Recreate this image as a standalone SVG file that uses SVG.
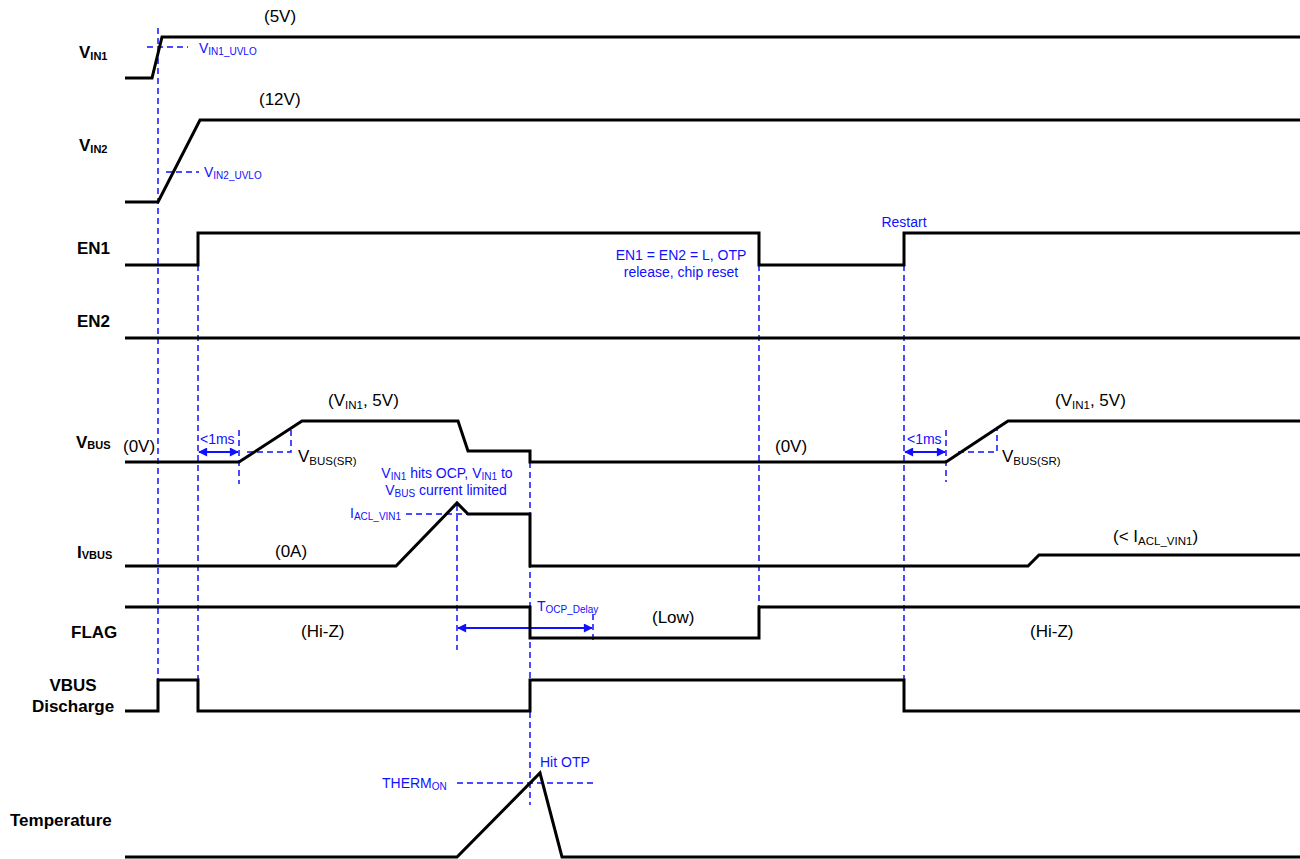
<svg xmlns="http://www.w3.org/2000/svg" width="1300" height="859" viewBox="0 0 1300 859">
<defs>
<style>
.sig{fill:none;stroke:#000;stroke-width:3;stroke-linejoin:miter}
.dash{fill:none;stroke:#1010ff;stroke-width:1.5;stroke-dasharray:6,4}
.arr{fill:none;stroke:#1010ff;stroke-width:2}
.lbl{font-family:"Liberation Sans",Arial,sans-serif;font-weight:bold;font-size:17px;fill:#000}
.lsub{font-size:11px}
.txt{font-family:"Liberation Sans",Arial,sans-serif;font-size:17px;fill:#000}
.tsub{font-size:11.5px}
.bt{font-family:"Liberation Sans",Arial,sans-serif;font-size:14px;fill:#1010ff}
.bsub{font-size:10px}
</style>
<marker id="ah" viewBox="0 0 10 10" refX="9" refY="5" markerWidth="5" markerHeight="4.5" orient="auto-start-reverse" markerUnits="strokeWidth">
<path d="M0,0 L10,5 L0,10 z" fill="#1010ff"/>
</marker>
</defs>
<rect width="1300" height="859" fill="#fff"/>

<g id="connectors">
<line class="dash" x1="158" y1="28" x2="158" y2="680"/>
<line class="dash" x1="198" y1="265" x2="198" y2="680"/>
<line class="dash" x1="759" y1="265" x2="759" y2="607"/>
<line class="dash" x1="904" y1="265" x2="904" y2="680"/>
<line class="dash" x1="530" y1="462" x2="530" y2="805"/>
<line class="dash" x1="239" y1="430" x2="239" y2="484"/>
<line class="dash" x1="946" y1="430" x2="946" y2="482"/>
<line class="dash" x1="457" y1="505" x2="457" y2="650"/>
<line class="dash" x1="593" y1="614" x2="593" y2="640"/>
<line class="dash" x1="147" y1="47" x2="188" y2="47"/>
<line class="dash" x1="166" y1="172" x2="199" y2="172"/>
<polyline class="dash" points="247,452 291,452 291,428"/>
<polyline class="dash" points="958,452 997,452 997,428"/>
<line class="dash" x1="406" y1="514" x2="468" y2="514"/>
<line class="dash" x1="457" y1="783" x2="593" y2="783"/>
<line class="arr" x1="199" y1="452" x2="238" y2="452" marker-start="url(#ah)" marker-end="url(#ah)"/>
<line class="arr" x1="905" y1="452" x2="945" y2="452" marker-start="url(#ah)" marker-end="url(#ah)"/>
<line class="arr" x1="458" y1="628" x2="592" y2="628" marker-start="url(#ah)" marker-end="url(#ah)"/>
</g>

<g id="vin1">
<text class="lbl" x="79" y="58">V<tspan class="lsub" dy="2">IN1</tspan></text>
<polyline class="sig" points="125,78 152,78 162,37 1300,37"/>
<text class="txt" x="264" y="22">(5V)</text>
<text class="bt" x="199" y="53">V<tspan class="bsub" dy="2">IN1_UVLO</tspan></text>
</g>

<g id="vin2">
<text class="lbl" x="79" y="151">V<tspan class="lsub" dy="2">IN2</tspan></text>
<polyline class="sig" points="125,202 158,202 200,120 1300,120"/>
<text class="txt" x="259" y="105">(12V)</text>
<text class="bt" x="204" y="177">V<tspan class="bsub" dy="2">IN2_UVLO</tspan></text>
</g>

<g id="en1">
<text class="lbl" x="77" y="254">EN1</text>
<polyline class="sig" points="125,265 198,265 198,233 759,233 759,265 904,265 904,233 1300,233"/>
<text class="bt" x="681" y="260" text-anchor="middle">EN1 = EN2 = L, OTP</text>
<text class="bt" x="681" y="277" text-anchor="middle">release, chip reset</text>
<text class="bt" x="904" y="227" text-anchor="middle">Restart</text>
</g>

<g id="en2">
<text class="lbl" x="77" y="327">EN2</text>
<line class="sig" x1="125" y1="338" x2="1300" y2="338"/>
</g>

<g id="vbus">
<text class="lbl" x="76" y="448">V<tspan class="lsub" dy="1">BUS</tspan></text>
<polyline class="sig" points="125,462 239,462 302,421 458,421 468,451 530,451 530,462 946,462 1008,421 1300,421"/>
<text class="txt" x="123" y="452">(0V)</text>
<text class="txt" x="775" y="452">(0V)</text>
<text class="txt" x="328" y="406">(V<tspan class="tsub" dy="3">IN1</tspan><tspan dy="-3">, 5V)</tspan></text>
<text class="txt" x="1055" y="406">(V<tspan class="tsub" dy="3">IN1</tspan><tspan dy="-3">, 5V)</tspan></text>
<text class="txt" x="298" y="462">V<tspan class="tsub" dy="3">BUS(SR)</tspan></text>
<text class="txt" x="1002" y="462">V<tspan class="tsub" dy="3">BUS(SR)</tspan></text>
<text class="bt" x="200" y="444">&lt;1ms</text>
<text class="bt" x="907" y="444">&lt;1ms</text>
<text class="bt" x="447" y="478" text-anchor="middle">V<tspan class="bsub" dy="2">IN1</tspan><tspan dy="-2"> hits OCP, V</tspan><tspan class="bsub" dy="2">IN1</tspan><tspan dy="-2"> to</tspan></text>
<text class="bt" x="446" y="495" text-anchor="middle">V<tspan class="bsub" dy="2">BUS</tspan><tspan dy="-2"> current limited</tspan></text>
</g>

<g id="ivbus">
<text class="lbl" x="77" y="558">I<tspan class="lsub" dy="1">VBUS</tspan></text>
<polyline class="sig" points="125,566 396,566 457,503 468,514 530,514 530,566 1028,566 1039,555 1300,555"/>
<text class="txt" x="275" y="557">(0A)</text>
<text class="bt" x="350" y="518">I<tspan class="bsub" dy="2">ACL_VIN1</tspan></text>
<text class="txt" x="1113" y="542">(&lt; I<tspan class="tsub" dy="3">ACL_VIN1</tspan><tspan dy="-3">)</tspan></text>
</g>

<g id="flag">
<text class="lbl" x="71" y="638">FLAG</text>
<polyline class="sig" points="125,607 530,607 530,638 759,638 759,607 1300,607"/>
<text class="txt" x="301" y="637">(Hi-Z)</text>
<text class="txt" x="652" y="623">(Low)</text>
<text class="txt" x="1030" y="637">(Hi-Z)</text>
<text class="bt" x="537" y="611">T<tspan class="bsub" dy="2">OCP_Delay</tspan></text>
</g>

<g id="vbus-discharge">
<text class="lbl" x="73" y="691" text-anchor="middle">VBUS</text>
<text class="lbl" x="73" y="712" text-anchor="middle">Discharge</text>
<polyline class="sig" points="125,711 158,711 158,680 198,680 198,711 530,711 530,680 904,680 904,711 1300,711"/>
</g>

<g id="temperature">
<text class="lbl" x="10" y="826">Temperature</text>
<polyline class="sig" points="125,857 457,857 540,773 562,857 1300,857"/>
<text class="bt" x="382" y="788">THERM<tspan class="bsub" dy="2">ON</tspan></text>
<text class="bt" x="540" y="767">Hit OTP</text>
</g>
</svg>
